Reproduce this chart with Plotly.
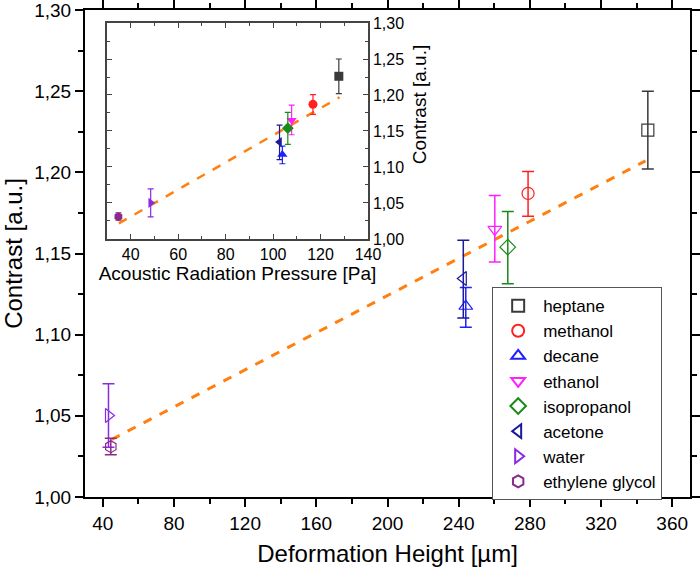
import plotly.graph_objects as go

# ---- data ----
solvents = ["heptane", "methanol", "decane", "ethanol", "isopropanol",
            "acetone", "water", "ethylene glycol"]
deformation_height = [346.3, 279.0, 244.0, 260.3, 267.6, 242.6, 43.2, 44.5]   # µm
radiation_pressure = [127.7, 116.8, 103.9, 107.8, 106.2, 102.7, 48.4, 34.8]   # Pa
contrast = [1.226, 1.187, 1.1175, 1.1648, 1.1539, 1.1346, 1.0502, 1.031]
err_plus = [0.024, 0.0135, 0.0115, 0.021, 0.022, 0.0236, 0.0195, 0.0052]
err_minus = [0.024, 0.014, 0.013, 0.020, 0.0226, 0.0243, 0.0195, 0.005]

# linear fits (slope, intercept, x-range)
fit_height = {"slope": 0.000572, "intercept": 1.0097, "range": [45.0, 345.0]}
fit_pressure = {"slope": 0.001884, "intercept": 0.9557, "range": [35.0, 128.0]}

x_ticks_main = [40, 80, 120, 160, 200, 240, 280, 320, 360]
x_ticks_inset = [40, 60, 80, 100, 120, 140]

# ---- styles ----
colors = ["#3a3a3a", "#ff2020", "#1f1fff", "#ff20ff", "#1a8a1a",
          "#1a1a9a", "#8a2be2", "#8a2a8a"]
symbols = ["square", "circle", "triangle-up", "triangle-down", "diamond",
           "triangle-left", "triangle-right", "hexagon"]
FONT = "Liberation Sans, Arial, sans-serif"
ORANGE = "#ff8010"

fig = go.Figure()

# main fit line
fx = fit_height["range"]
fig.add_trace(go.Scatter(
    x=fx, y=[fit_height["slope"] * v + fit_height["intercept"] for v in fx],
    mode="lines", line=dict(color=ORANGE, width=3, dash="dash"),
    showlegend=False, hoverinfo="skip", xaxis="x", yaxis="y"))

# main data
for i, name in enumerate(solvents):
    fig.add_trace(go.Scatter(
        x=[deformation_height[i]], y=[contrast[i]], name=name, mode="markers",
        marker=dict(symbol=symbols[i] + "-open", size=12, color=colors[i],
                    line=dict(width=1.2, color=colors[i])),
        error_y=dict(type="data", symmetric=False, array=[err_plus[i]],
                     arrayminus=[err_minus[i]], color=colors[i],
                     thickness=1.5, width=6),
        xaxis="x", yaxis="y"))

# inset fit line
px = fit_pressure["range"]
fig.add_trace(go.Scatter(
    x=px, y=[fit_pressure["slope"] * v + fit_pressure["intercept"] for v in px],
    mode="lines", line=dict(color=ORANGE, width=2.5, dash="dash"),
    showlegend=False, hoverinfo="skip", xaxis="x2", yaxis="y2"))

# inset data
for i, name in enumerate(solvents):
    fig.add_trace(go.Scatter(
        x=[radiation_pressure[i]], y=[contrast[i]], name=name, mode="markers",
        marker=dict(symbol=symbols[i], size=9, color=colors[i]),
        error_y=dict(type="data", symmetric=False, array=[err_plus[i]],
                     arrayminus=[err_minus[i]], color=colors[i],
                     thickness=1.2, width=3),
        showlegend=False, xaxis="x2", yaxis="y2"))

fig.update_layout(
    width=700, height=573,
    margin=dict(l=85, r=10, t=10, b=76, autoexpand=False),
    paper_bgcolor="white", plot_bgcolor="white",
    separators=",.",
    font=dict(family=FONT, color="black", size=19),
    xaxis=dict(
        domain=[0, 1], range=[30, 370], tickvals=x_ticks_main, automargin=False,
        ticklabeloverflow="allow",
        showline=True, linewidth=2, linecolor="black", mirror="ticks",
        ticks="outside", ticklen=8, tickwidth=2, tickcolor="black",
        minor=dict(dtick=20, tick0=0, ticks="outside", ticklen=5, tickwidth=1.5,
                   tickcolor="black"),
        showgrid=False, zeroline=False,
        tickfont=dict(size=19),
        title=dict(text="Deformation Height [µm]", font=dict(size=24), standoff=12)),
    yaxis=dict(
        domain=[0, 1], range=[1.0, 1.3], dtick=0.05, tick0=1.0, tickformat=".2f",
        automargin=False, ticklabeloverflow="allow",
        showline=True, linewidth=2, linecolor="black", mirror="ticks",
        ticks="outside", ticklen=8, tickwidth=2, tickcolor="black",
        minor=dict(dtick=0.025, tick0=1.0, ticks="outside", ticklen=5, tickwidth=1.5,
                   tickcolor="black"),
        showgrid=False, zeroline=False,
        tickfont=dict(size=19),
        title=dict(text="Contrast [a.u.]", font=dict(size=24), standoff=8)),
    xaxis2=dict(
        domain=[0.0364, 0.4678], anchor="y2", range=[30, 140], tickvals=x_ticks_inset,
        automargin=False,
        showline=True, linewidth=1.5, linecolor="#444", mirror="ticks",
        ticks="inside", ticklen=5, tickwidth=1.2, tickcolor="#444",
        minor=dict(dtick=10, tick0=0, ticks="inside", ticklen=3, tickcolor="#444"),
        showgrid=False, zeroline=False,
        tickfont=dict(size=16),
        title=dict(text="Acoustic Radiation Pressure [Pa]", font=dict(size=19), standoff=2)),
    yaxis2=dict(
        domain=[0.5298, 0.9733], anchor="x2", side="right",
        range=[1.0, 1.3], dtick=0.05, tick0=1.0, tickformat=".2f", automargin=False,
        showline=True, linewidth=1.5, linecolor="#444", mirror="ticks",
        ticks="inside", ticklen=5, tickwidth=1.2, tickcolor="#444",
        minor=dict(dtick=0.025, tick0=1.0, ticks="inside", ticklen=3, tickcolor="#444"),
        showgrid=False, zeroline=False,
        tickfont=dict(size=16)),
    annotations=[dict(
        text="Contrast [a.u.]", textangle=-90, xref="paper", yref="paper",
        x=0.554, y=0.805, xanchor="center", yanchor="middle", showarrow=False,
        font=dict(size=19, family=FONT, color="black"))],
    legend=dict(
        x=0.673, y=0.431, xanchor="left", yanchor="top",
        bgcolor="white", bordercolor="#555", borderwidth=1,
        font=dict(size=17), itemsizing="constant", itemwidth=40, tracegroupgap=0,
        traceorder="normal"),
    showlegend=True,
)

fig.write_html("out.html", config={"displayModeBar": False},
               post_script="document.body.style.margin='0';"
                           "document.body.style.overflow='hidden';")
